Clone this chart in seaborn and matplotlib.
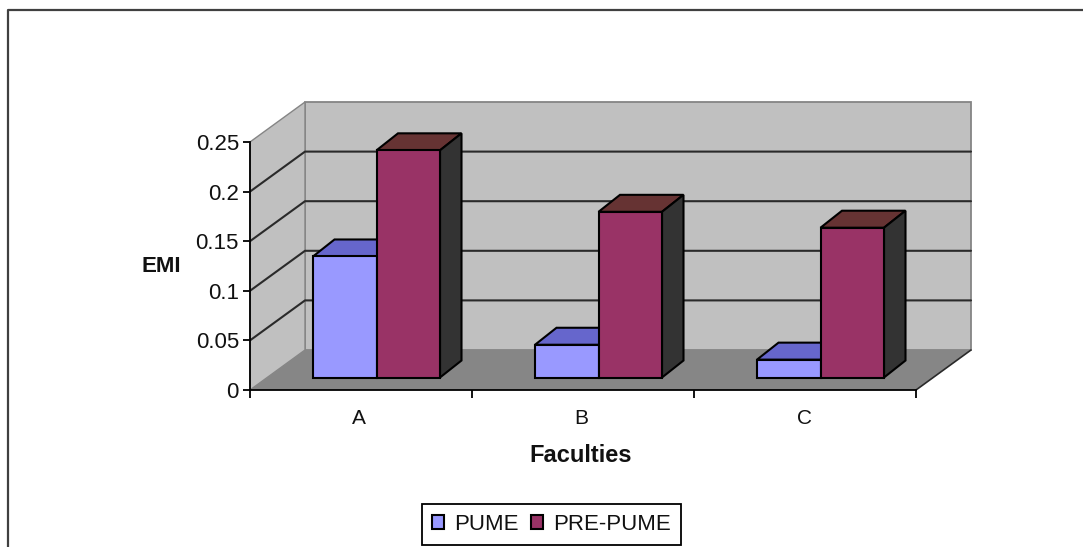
import pandas as pd
import matplotlib
matplotlib.use('Agg')
import matplotlib.pyplot as plt
from matplotlib.lines import Line2D
from matplotlib.patches import Polygon
import seaborn as sns

faculties = ['A', 'B', 'C']
pume = [0.122, 0.033, 0.018]
pre_pume = [0.229, 0.167, 0.151]
y_ticks = [0, 0.05, 0.1, 0.15, 0.2, 0.25]
y_labels = ['0', '0.05', '0.1', '0.15', '0.2', '0.25']

W, H = 1083, 547


def box(x0, x1, y_top, y_bottom):
    # pixel box of the picture -> figure fractions
    return [x0 / W, 1 - y_bottom / H, (x1 - x0) / W, (y_bottom - y_top) / H]


sns.set_theme(style='white')
plt.rcParams['font.family'] = ['Liberation Sans', 'DejaVu Sans']

fig = plt.figure(figsize=(W / 100, H / 100), dpi=100, facecolor='white')

# outer chart frame, the picture cuts it off on the right and at the bottom
fig.add_artist(Line2D([8 / W, 8 / W, 1], [0, 1 - 10 / H, 1 - 10 / H], transform=fig.transFigure,
                      color='#404040', linewidth=1.6))

# front plane of the 3d box, holds the axes
ax = fig.add_axes(box(250, 916, 142, 390))
ax.set_facecolor('none')
ax.set_xlim(-0.5, 2.5)
ax.set_ylim(0, 0.25)

wall_dx = 55 / 222     # depth of the box in data units
wall_dy = 40 / 992
wall_c = '#c0c0c0'
edge_c = '#858585'
x0, x1 = -0.5, 2.5
ax.add_patch(Polygon([(x0 + wall_dx, wall_dy), (x1 + wall_dx, wall_dy),
                      (x1 + wall_dx, 0.25 + wall_dy), (x0 + wall_dx, 0.25 + wall_dy)],
                     facecolor=wall_c, edgecolor=edge_c, linewidth=1.3, clip_on=False, zorder=1))
ax.add_patch(Polygon([(x0, 0), (x0 + wall_dx, wall_dy), (x0 + wall_dx, 0.25 + wall_dy), (x0, 0.25)],
                     facecolor=wall_c, edgecolor=edge_c, linewidth=1, clip_on=False, zorder=1))
ax.add_patch(Polygon([(x0, 0), (x1, 0), (x1 + wall_dx, wall_dy), (x0 + wall_dx, wall_dy)],
                     facecolor='#868686', edgecolor='none', clip_on=False, zorder=1))
# gridlines on side wall and back wall
for t in y_ticks[1:-1]:
    ax.plot([x0, x0 + wall_dx, x1 + wall_dx], [t, t + wall_dy, t + wall_dy],
            color='#2a2a2a', linewidth=1.5, clip_on=False, zorder=2)
ax.plot([x1, x1 + wall_dx], [0, wall_dy], color='#2a2a2a', linewidth=1.2, clip_on=False, zorder=2)

ax.set_yticks(y_ticks)
ax.set_yticklabels(y_labels)
ax.set_xticks([-0.01, 0.99, 2])
ax.set_xticklabels(faculties)
ax.set_xticks([-0.5, 0.5, 1.5, 2.5], minor=True)
ax.tick_params(axis='y', left=True, length=5, width=1.3, color='black', labelsize=16, pad=3, labelcolor='#111111')
ax.tick_params(axis='x', which='major', bottom=False, labelsize=15, pad=7.5, labelcolor='#111111')
ax.tick_params(axis='x', which='minor', bottom=True, length=6, width=1.3, color='black')
for s in ['top', 'right']:
    ax.spines[s].set_visible(False)
for s in ['left', 'bottom']:
    ax.spines[s].set_color('black')
    ax.spines[s].set_linewidth(1.3)

fig.text(161.5 / W, 1 - 266 / H, 'EMI', fontsize=16, fontweight='bold', ha='center', va='center', color='#111111')
fig.text(581 / W, 1 - 456 / H, 'Faculties', fontsize=17, fontweight='bold', ha='center', va='center', color='#111111')

# bars stand in their own plane, part way into the box
df = pd.DataFrame({
    'faculty': faculties * 2,
    'series': ['PUME'] * 3 + ['PRE-PUME'] * 3,
    'emi': pume + pre_pume,
})
bar_ax = fig.add_axes(box(265.5, 931.5, 129.5, 377.5))
sns.barplot(data=df, x='faculty', y='emi', hue='series', ax=bar_ax, width=127 / 222, saturation=1,
            palette=['#9999ff', '#993366'], edgecolor='black', linewidth=1.5, gap=0)
bar_ax.set_xlim(-0.5, 2.5)
bar_ax.set_ylim(0, 0.25)
bar_ax.axis('off')

bar_dx = 21.5 / 222
bar_dy = 17 / 992
top_colors = ['#6666cc', '#663333']
for cont, top_c in zip(bar_ax.containers, top_colors):
    for p in cont:
        xa, xb, h = p.get_x(), p.get_x() + p.get_width(), p.get_height()
        p.set_clip_on(False)
        p.set_zorder(3)
        bar_ax.add_patch(Polygon([(xa, h), (xb, h), (xb + bar_dx, h + bar_dy), (xa + bar_dx, h + bar_dy)],
                                 facecolor=top_c, edgecolor='black', linewidth=1.5, clip_on=False, zorder=2))
        bar_ax.add_patch(Polygon([(xb, 0), (xb + bar_dx, bar_dy), (xb + bar_dx, h + bar_dy), (xb, h)],
                                 facecolor='#333333', edgecolor='black', linewidth=1.5, clip_on=False, zorder=2))

sns.move_legend(bar_ax, loc='center', bbox_to_anchor=(551.5 / W, 1 - 524.5 / H), bbox_transform=fig.transFigure,
                ncol=2, title=None, frameon=True, fancybox=False, framealpha=1, edgecolor='black',
                fontsize=16, handlelength=0.55, handleheight=0.55, handletextpad=0.45, columnspacing=0.55,
                borderpad=0.43, labelcolor='#111111')
bar_ax.get_legend().get_frame().set_linewidth(1.3)

fig.savefig('out.png', dpi=100, facecolor='white')
